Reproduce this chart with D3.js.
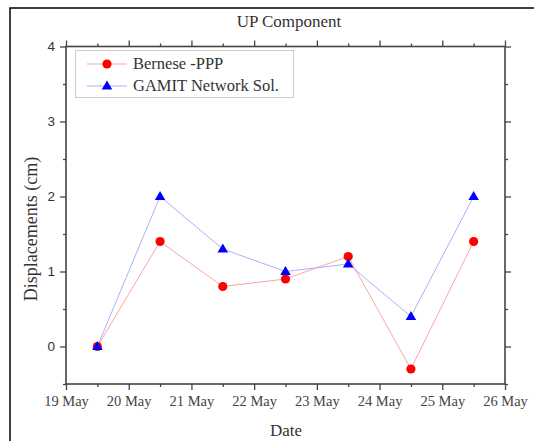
<!DOCTYPE html>
<html>
<head>
<meta charset="utf-8">
<script src="https://cdn.jsdelivr.net/npm/d3@7"></script>
<style>
  body { margin: 0; background: #fff; }
  svg { display: block; }
</style>
</head>
<body>
<svg id="chart" width="534" height="441"></svg>
<script>
// data
var days = [19.5, 20.5, 21.5, 22.5, 23.5, 24.5, 25.5];
var bernese = [0, 1.4, 0.8, 0.9, 1.2, -0.3, 1.4];
var gamit = [0, 2.0, 1.3, 1.0, 1.1, 0.4, 2.0];
var xTickDays = [19, 20, 21, 22, 23, 24, 25, 26];
var yTicks = [0, 1, 2, 3, 4];
var seriesNames = ['Bernese -PPP', 'GAMIT Network Sol.'];

var svg = d3.select('#chart');
// plot box (note: "top" is reserved on window, so use other names)
var pLeft = 66, pRight = 505, pTop = 46.5, pBottom = 384;
var serif = '"Liberation Serif", "Times New Roman", serif';
var axisCol = '#444';

// outer frame, cut by the window on the right and bottom
svg.append('rect')
	.attr('x', 10).attr('y', 8)
	.attr('width', 540).attr('height', 450)
	.attr('fill', 'none').attr('stroke', '#000').attr('stroke-width', 1.5);

var x = d3.scaleLinear().domain([19, 26]).range([pLeft, pRight]);
var y = d3.scaleLinear().domain([-0.5, 4]).range([pBottom, pTop]);

function styleAxis(g){
	g.select('.domain').remove();
	g.selectAll('line').attr('stroke', axisCol).attr('stroke-width', 1.3);
}

// minor ticks first
var halfDays = d3.range(19.5, 26, 1);
var halfY = [-0.5, 0.5, 1.5, 2.5, 3.5];

svg.append('g').attr('transform', 'translate(0,' + pBottom + ')')
	.call(d3.axisBottom(x).tickValues(halfDays).tickSize(3).tickFormat(''))
	.call(styleAxis);
svg.append('g').attr('transform', 'translate(0,' + pTop + ')')
	.call(d3.axisTop(x).tickValues(halfDays).tickSize(3).tickFormat(''))
	.call(styleAxis);
svg.append('g').attr('transform', 'translate(' + pLeft + ',0)')
	.call(d3.axisLeft(y).tickValues(halfY).tickSize(3).tickFormat(''))
	.call(styleAxis);
svg.append('g').attr('transform', 'translate(' + pRight + ',0)')
	.call(d3.axisRight(y).tickValues(halfY).tickSize(3).tickFormat(''))
	.call(styleAxis);

// major ticks
var xb = svg.append('g').attr('transform', 'translate(0,' + pBottom + ')')
	.call(d3.axisBottom(x).tickValues(xTickDays).tickSize(6).tickPadding(6)
		.tickFormat(function(d){ return d + ' May'; }))
	.call(styleAxis);
xb.selectAll('text').attr('font-family', serif).attr('font-size', 14.5).attr('fill', '#444');

svg.append('g').attr('transform', 'translate(0,' + pTop + ')')
	.call(d3.axisTop(x).tickValues(xTickDays).tickSize(6).tickFormat(''))
	.call(styleAxis);

var yl = svg.append('g').attr('transform', 'translate(' + pLeft + ',0)')
	.call(d3.axisLeft(y).tickValues(yTicks).tickSize(6).tickPadding(5).tickFormat(d3.format('d')))
	.call(styleAxis);
yl.selectAll('text').attr('font-family', 'Arial, "Liberation Sans", sans-serif')
	.attr('font-size', 13.5).attr('fill', '#333');

svg.append('g').attr('transform', 'translate(' + pRight + ',0)')
	.call(d3.axisRight(y).tickValues(yTicks).tickSize(6).tickFormat(''))
	.call(styleAxis);

// plot frame
svg.append('rect')
	.attr('x', pLeft).attr('y', pTop)
	.attr('width', pRight - pLeft).attr('height', pBottom - pTop)
	.attr('fill', 'none').attr('stroke', axisCol).attr('stroke-width', 1.6);

// lines
var line = d3.line()
	.x(function(d){ return x(d[0]); })
	.y(function(d){ return y(d[1]); });

var bPts = days.map(function(d, i){ return [d, bernese[i]]; });
var gPts = days.map(function(d, i){ return [d, gamit[i]]; });

svg.append('path').datum(bPts).attr('d', line)
	.attr('fill', 'none').attr('stroke', '#ff9a9a').attr('stroke-width', 0.9);
svg.append('path').datum(gPts).attr('d', line)
	.attr('fill', 'none').attr('stroke', '#a4a4ff').attr('stroke-width', 0.9);

var tri = d3.symbol().type(d3.symbolTriangle).size(48);

svg.selectAll('.bdot').data(bPts).enter().append('circle')
	.attr('cx', function(d){ return x(d[0]); })
	.attr('cy', function(d){ return y(d[1]); })
	.attr('r', 4.6).attr('fill', '#ff0000');

svg.selectAll('.gtri').data(gPts).enter().append('path')
	.attr('d', tri)
	.attr('transform', function(d){ return 'translate(' + x(d[0]) + ',' + (y(d[1]) + 0.5) + ')'; })
	.attr('fill', '#0000ff');

// legend
var lg = svg.append('g');
lg.append('rect')
	.attr('x', 75.5).attr('y', 50.5).attr('width', 218).attr('height', 47)
	.attr('fill', '#fff').attr('stroke', '#ccc').attr('stroke-width', 1);

[0, 1].forEach(function(i){
	var ly = 64 + i * 22;
	lg.append('line')
		.attr('x1', 87).attr('x2', 127).attr('y1', ly).attr('y2', ly)
		.attr('stroke', i == 0 ? '#ff9a9a' : '#a4a4ff').attr('stroke-width', 0.9);
	if (i == 0){
		lg.append('circle').attr('cx', 107).attr('cy', ly).attr('r', 4.6).attr('fill', '#ff0000');
	}else{
		lg.append('path').attr('d', tri)
			.attr('transform', 'translate(107,' + (ly + 0.5) + ')').attr('fill', '#0000ff');
	}
	lg.append('text')
		.attr('x', 133).attr('y', ly + 5)
		.attr('font-family', serif).attr('font-size', 16.5).attr('fill', '#333')
		.text(seriesNames[i]);
});

// titles
svg.append('text')
	.attr('x', 289).attr('y', 27).attr('text-anchor', 'middle')
	.attr('font-family', serif).attr('font-size', 17).attr('fill', '#333')
	.text('UP Component');

svg.append('text')
	.attr('x', 286).attr('y', 436).attr('text-anchor', 'middle')
	.attr('font-family', serif).attr('font-size', 17).attr('fill', '#333')
	.text('Date');

svg.append('text')
	.attr('transform', 'translate(37,229) rotate(-90)')
	.attr('text-anchor', 'middle')
	.attr('font-family', serif).attr('font-size', 18).attr('fill', '#333')
	.text('Displacements (cm)');
</script>
</body>
</html>
